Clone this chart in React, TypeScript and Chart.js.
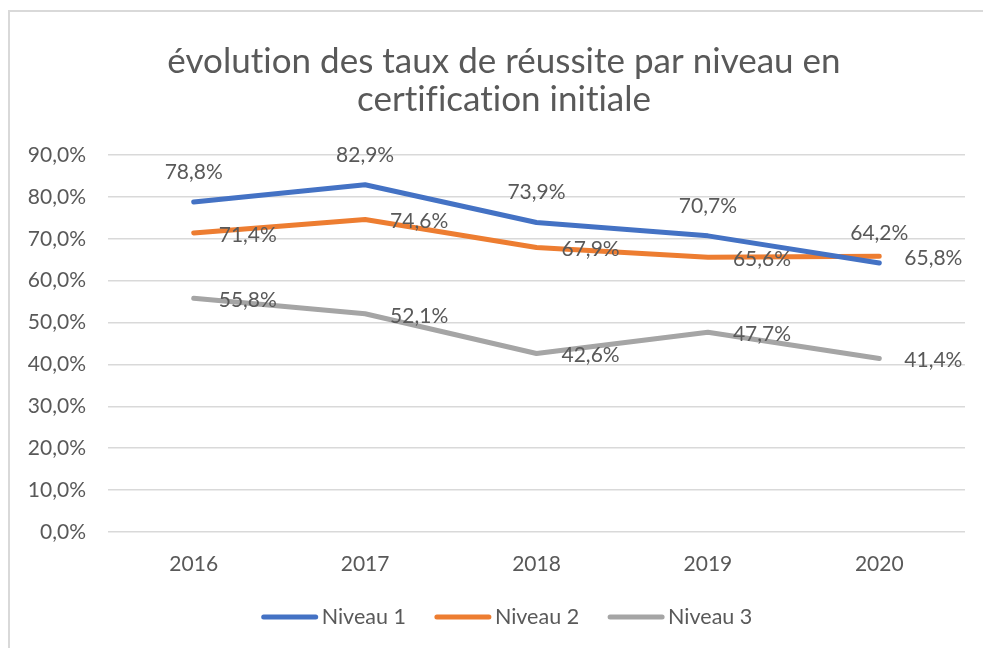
import React, { useEffect, useRef } from "react";
import { Chart, registerables } from "chart.js";

Chart.register(...registerables);

const TITLE_LINES = ["évolution des taux de réussite par niveau en", "certification initiale"];
const CATEGORIES = ["2016", "2017", "2018", "2019", "2020"];
const SERIES_NAMES = ["Niveau 1", "Niveau 2", "Niveau 3"];
const NIVEAU_1 = [78.8, 82.9, 73.9, 70.7, 64.2];
const NIVEAU_2 = [71.4, 74.6, 67.9, 65.6, 65.8];
const NIVEAU_3 = [55.8, 52.1, 42.6, 47.7, 41.4];
const SERIES_COLORS = ["#4472C4", "#ED7D31", "#A5A5A5"];
const LABEL_POSITIONS = ["above", "right", "right"];
const Y_MIN = 0;
const Y_MAX = 90;
const Y_STEP = 10;

const FONT = "Lato, 'Noto Sans', sans-serif";
const TEXT_COLOR = "#595959";
const GRID_COLOR = "#D9D9D9";

const fmt = (v: number) => v.toFixed(1).replace(".", ",") + "%";

const overlayPlugin = {
  id: "overlay",
  afterDatasetsDraw(chart: any) {
    const ctx = chart.ctx;
    ctx.save();
    ctx.fillStyle = TEXT_COLOR;
    ctx.font = `21px ${FONT}`;
    ctx.textBaseline = "middle";
    chart.data.datasets.forEach((ds: any, di: number) => {
      const meta = chart.getDatasetMeta(di);
      const pos = LABEL_POSITIONS[di];
      meta.data.forEach((pt: any, i: number) => {
        const txt = fmt(ds.data[i]);
        if (pos === "above") {
          ctx.textAlign = "center";
          ctx.fillText(txt, pt.x, pt.y - 30);
        } else {
          ctx.textAlign = "left";
          ctx.fillText(txt, pt.x + 25, pt.y + 2);
        }
      });
    });
    ctx.restore();
  },
  afterDraw(chart: any) {
    const ctx = chart.ctx;
    ctx.save();
    // title
    ctx.fillStyle = TEXT_COLOR;
    ctx.font = `35px ${FONT}`;
    try { (ctx as any).letterSpacing = "0.01px"; } catch (e) {}
    ctx.textAlign = "center";
    ctx.textBaseline = "middle";
    ctx.fillText(TITLE_LINES[0], 504, 62);
    ctx.fillText(TITLE_LINES[1], 504, 100);
    try { (ctx as any).letterSpacing = "0px"; } catch (e) {}
    // legend
    ctx.font = `21.5px ${FONT}`;
    ctx.textAlign = "left";
    const ly = 617;
    const lineLen = 56;
    const gap = 4;
    const itemGap = 29;
    const widths = chart.data.datasets.map((ds: any) => lineLen + gap + ctx.measureText(ds.label).width);
    const total = widths.reduce((a: number, b: number) => a + b, 0) + itemGap * (widths.length - 1);
    let x = 507 - total / 2;
    chart.data.datasets.forEach((ds: any, di: number) => {
      ctx.strokeStyle = ds.borderColor;
      ctx.lineWidth = 5;
      ctx.lineCap = "round";
      ctx.beginPath();
      ctx.moveTo(x + 2, ly);
      ctx.lineTo(x + lineLen - 2, ly);
      ctx.stroke();
      ctx.fillStyle = TEXT_COLOR;
      ctx.fillText(ds.label, x + lineLen + gap, ly);
      x += widths[di] + itemGap;
    });
    ctx.restore();
  },
};

export default function App() {
  const ref = useRef<HTMLCanvasElement | null>(null);
  useEffect(() => {
    if (!ref.current) return;
    const seriesData = [NIVEAU_1, NIVEAU_2, NIVEAU_3];
    const chart = new Chart(ref.current, {
      type: "line",
      data: {
        labels: CATEGORIES,
        datasets: SERIES_NAMES.map((name, i) => ({
          label: name,
          data: seriesData[i],
          borderColor: SERIES_COLORS[i],
          backgroundColor: SERIES_COLORS[i],
          borderWidth: 5,
          borderCapStyle: "round",
          borderJoinStyle: "round",
          pointRadius: 0,
          pointHoverRadius: 0,
          tension: 0,
          fill: false,
        })),
      },
      options: {
        animation: false,
        responsive: false,
        devicePixelRatio: 1,
        layout: { padding: { top: 155, right: 18, bottom: 0, left: 0 } },
        plugins: {
          legend: { display: false },
          title: { display: false },
          tooltip: { enabled: false },
        },
        scales: {
          x: {
            offset: true,
            grid: { display: false, drawTicks: false },
            border: { display: false },
            ticks: { color: TEXT_COLOR, font: { family: FONT, size: 21 }, padding: 20 },
            afterFit: (s: any) => { s.height = 116; },
          },
          y: {
            min: Y_MIN,
            max: Y_MAX,
            grid: { color: GRID_COLOR, lineWidth: 1.5, drawTicks: false },
            border: { display: false },
            ticks: {
              stepSize: Y_STEP,
              color: TEXT_COLOR,
              font: { family: FONT, size: 21 },
              padding: 22,
              callback: (v: any) => fmt(Number(v)),
            },
            afterFit: (s: any) => { s.width = 108; },
          },
        },
      },
      plugins: [overlayPlugin],
    } as any);
    return () => chart.destroy();
  }, []);
  return (
    <div style={{ position: "fixed", left: 0, top: 0, width: 983, height: 648, overflow: "hidden", background: "#fff" }}>
      <div style={{ position: "absolute", left: 8, top: 10, width: 1200, height: 1000, border: "2px solid #D9D9D9" }} />
      <canvas ref={ref} width={983} height={648} style={{ position: "absolute", left: 0, top: 0, width: 983, height: 648 }} />
    </div>
  );
}
